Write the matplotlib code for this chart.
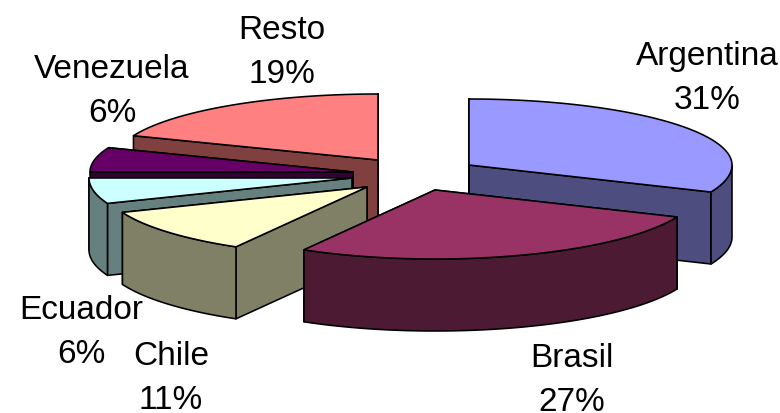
import numpy as np
import matplotlib
matplotlib.use("Agg")
import matplotlib.pyplot as plt

# data
labels = ["Argentina", "Brasil", "Chile", "Ecuador", "Venezuela", "Resto"]
shares = [31.4, 26.9, 10.7, 6, 6, 19]

# look of each slice, same order as labels
top_colors = ["#9999FF", "#993366", "#FFFFCC", "#CCFFFF", "#660066", "#FF8080"]
side_colors = ["#4D4D80", "#4D1A33", "#808066", "#668080", "#330033", "#804040"]
apex_x = [469, 435, 367, 352, 353, 378]
apex_y = [165, 190, 187, 178, 172, 160]
label_x = [707, 572, 171, 81, 112, 282]
label_y = [65, 367, 365, 319, 78, 39]
draw_order = [5, 4, 3, 2, 0, 1]

rx = 263
ry_back, ry_front = 66, 69  # the far half of the pie looks flatter
depth = 72
line_gap = 44

fig = plt.figure(figsize=(7.8, 4.13), dpi=100)
ax = fig.add_axes([0, 0, 1, 1])
ax.set_xlim(0, 780)
ax.set_ylim(413, 0)
ax.axis("off")

edges = np.cumsum([0] + shares) / sum(shares) * 2 * np.pi


def rim(cx, cy, a, b):
    t = np.linspace(a, b, max(2, int(np.degrees(b - a)) + 2))
    c = np.cos(t)
    return cx + rx * np.sin(t), cy - np.where(c > 0, ry_back, ry_front) * c


def patch(xs, ys, color):
    ax.fill(xs, ys, facecolor=color, edgecolor="black", linewidth=1.15, joinstyle="round")


def cut_face(cx, cy, a, color):
    ex, ey = rim(cx, cy, a, a)
    ex, ey = ex[0], ey[0]
    patch([cx, ex, ex, cx], [cy, ey, ey + depth, cy + depth], color)


for i in draw_order:
    a, b = edges[i], edges[i + 1]
    cx, cy = apex_x[i], apex_y[i]
    cut_face(cx, cy, b, side_colors[i])
    cut_face(cx, cy, a, side_colors[i])
    # outer wall, only the part that faces the viewer
    lo, hi = max(a, np.pi / 2), min(b, 3 * np.pi / 2)
    if hi > lo:
        xs, ys = rim(cx, cy, lo, hi)
        patch(np.r_[xs, xs[::-1]], np.r_[ys, ys[::-1] + depth], side_colors[i])
    xs, ys = rim(cx, cy, a, b)
    patch(np.r_[cx, xs], np.r_[cy, ys], top_colors[i])

for i in range(len(labels)):
    for text, y in [(labels[i], label_y[i]), (f"{shares[i]:.0f}%", label_y[i] + line_gap)]:
        ax.text(label_x[i], y, text, ha="center", va="baseline", fontsize=24,
                family="Liberation Sans", color="black")

fig.savefig("out.png", dpi=100)
